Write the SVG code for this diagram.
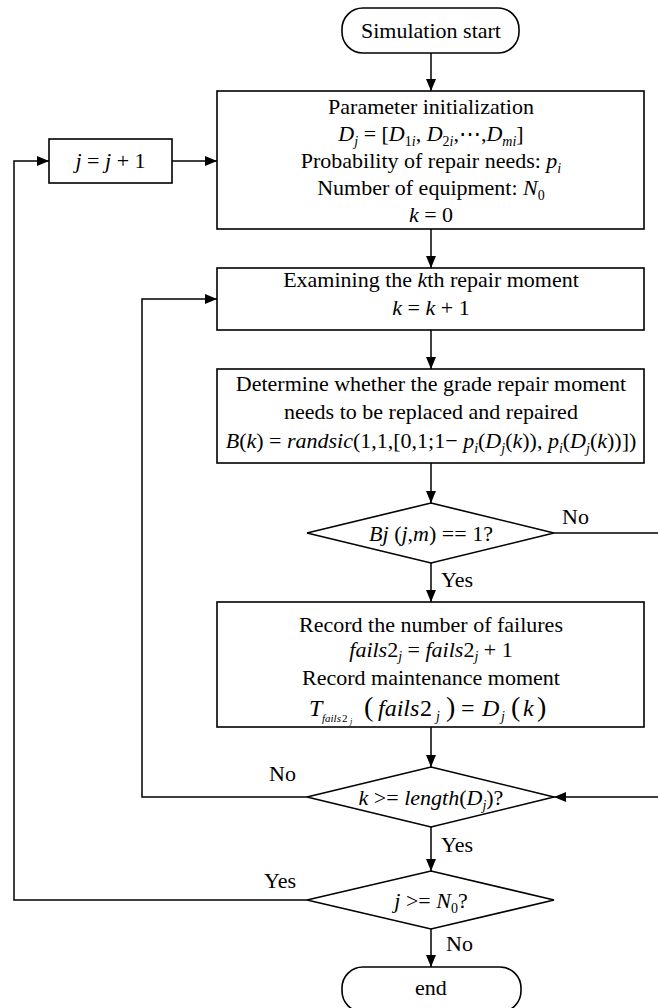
<svg xmlns="http://www.w3.org/2000/svg" width="658" height="1008" viewBox="0 0 658 1008" font-family="'Liberation Serif', 'DejaVu Serif', serif">
  <style>
    .shape { fill: #fff; stroke: #000; stroke-width: 1.6; }
    .wire { fill: none; stroke: #000; stroke-width: 1.5; }
    text { font-family: 'Liberation Serif', 'DejaVu Serif', serif; font-size: 22px; fill: #000; }
    .c { text-anchor: middle; }
    .i { font-style: italic; }
    .s { font-size: 14px; }
    .eq { font-size: 24px; }
    .ss { font-size: 11px; }
    .sss { font-size: 8px; }
    .big { font-size: 28px; font-style: normal; }
  </style>
  <defs>
    <marker id="arrow" markerUnits="userSpaceOnUse" markerWidth="12" markerHeight="10" refX="12" refY="5" orient="auto">
      <path d="M0,0 L12,5 L0,10 z" fill="#000"/>
    </marker>
  </defs>

  <rect width="658" height="1008" fill="#fff"/>

  <!-- connectors -->
  <g id="connectors" class="wire" marker-end="url(#arrow)">
    <path d="M431,53 V91"/>
    <path d="M172,161 H217"/>
    <path d="M431,229 V268"/>
    <path d="M431,330 V369"/>
    <path d="M431,463 V503"/>
    <path d="M431,563 V602"/>
    <path d="M431,727 V767"/>
    <path d="M431,827 V871"/>
    <path d="M431,929 V967"/>
    <!-- no branch of the failure test joins the loop test from the right -->
    <path d="M554,533 H662 V797 H554"/>
    <!-- next repair moment loop -->
    <path d="M307,797 H142 V299 H217"/>
    <!-- next equipment loop -->
    <path d="M307,900 H14 V161 H49"/>
  </g>

  <!-- branch labels -->
  <g id="labels">
    <text x="562" y="524">No</text>
    <text x="441" y="587">Yes</text>
    <text x="296" y="781" text-anchor="end">No</text>
    <text x="441" y="852">Yes</text>
    <text x="296" y="888" text-anchor="end">Yes</text>
    <text x="446" y="951">No</text>
  </g>

  <g id="start">
    <rect class="shape" x="342" y="8" width="177" height="45" rx="21" ry="21"/>
    <text class="c" x="431" y="38">Simulation start</text>
  </g>

  <g id="next-j">
    <rect class="shape" x="49" y="139" width="123" height="44"/>
    <text class="c" x="110.5" y="168"><tspan class="i">j</tspan> = <tspan class="i">j</tspan> + 1</text>
  </g>

  <g id="init">
    <rect class="shape" x="217" y="91" width="427" height="138"/>
    <text class="c" x="431" y="114">Parameter initialization</text>
    <text class="c" x="431" y="141"><tspan class="i">D</tspan><tspan class="s i" dy="5">j</tspan><tspan dy="-5"> = [</tspan><tspan class="i">D</tspan><tspan class="s" dy="5">1</tspan><tspan class="s i">i</tspan><tspan dy="-5">, </tspan><tspan class="i">D</tspan><tspan class="s" dy="5">2</tspan><tspan class="s i">i</tspan><tspan dy="-5">,⋯,</tspan><tspan class="i">D</tspan><tspan class="s i" dy="5">mi</tspan><tspan dy="-5">]</tspan></text>
    <text class="c" x="431" y="168">Probability of repair needs: <tspan class="i">p</tspan><tspan class="s i" dy="5">i</tspan></text>
    <text class="c" x="431" y="195">Number of equipment: <tspan class="i">N</tspan><tspan class="s" dy="5">0</tspan></text>
    <text class="c" x="431" y="222"><tspan class="i">k</tspan> = 0</text>
  </g>

  <g id="examine">
    <rect class="shape" x="217" y="268" width="427" height="62"/>
    <text class="c" x="431" y="287">Examining the <tspan class="i">k</tspan>th repair moment</text>
    <text class="c" x="431" y="315"><tspan class="i">k</tspan> = <tspan class="i">k</tspan> + 1</text>
  </g>

  <g id="determine">
    <rect class="shape" x="217" y="369" width="427" height="94"/>
    <text class="c" x="431" y="391">Determine whether the grade repair moment</text>
    <text class="c" x="431" y="419">needs to be replaced and repaired</text>
    <text class="c" x="431" y="448"><tspan class="i">B</tspan>(<tspan class="i">k</tspan>) = <tspan class="i">randsic</tspan>(1,1,[0,1;1− <tspan class="i">p</tspan><tspan class="s i" dy="5">i</tspan><tspan dy="-5">(</tspan><tspan class="i">D</tspan><tspan class="s i" dy="5">j</tspan><tspan dy="-5">(</tspan><tspan class="i">k</tspan>)), <tspan class="i">p</tspan><tspan class="s i" dy="5">i</tspan><tspan dy="-5">(</tspan><tspan class="i">D</tspan><tspan class="s i" dy="5">j</tspan><tspan dy="-5">(</tspan><tspan class="i">k</tspan>))])</text>
  </g>

  <g id="failure-test">
    <polygon class="shape" points="431,503 554,533 431,563 307,533"/>
    <text class="c" x="431" y="541"><tspan class="i">Bj</tspan> (<tspan class="i">j</tspan>,<tspan class="i">m</tspan>) == 1?</text>
  </g>

  <g id="record">
    <rect class="shape" x="217" y="602" width="427" height="125"/>
    <text class="c" x="431" y="632">Record the number of failures</text>
    <text class="c" x="431" y="657"><tspan class="i">fails</tspan>2<tspan class="s i" dy="4">j</tspan><tspan dy="-4"> = </tspan><tspan class="i">fails</tspan>2<tspan class="s i" dy="4">j</tspan><tspan dy="-4"> + 1</tspan></text>
    <text class="c" x="431" y="685">Record maintenance moment</text>
    <!-- equation set glyph by glyph, equation-editor style -->
    <text class="eq" y="716"><tspan class="i" x="309">T</tspan><tspan class="ss i" x="322" dy="6">fails</tspan><tspan class="ss" x="342">2</tspan><tspan class="sss i" x="350" dy="2">j</tspan><tspan class="big" x="364" dy="-8">(</tspan><tspan class="i" x="378">fails</tspan><tspan x="420">2</tspan><tspan class="s i" x="436" dy="5">j</tspan><tspan class="big" x="446" dy="-5">)</tspan><tspan x="461">=</tspan><tspan class="i" x="482">D</tspan><tspan class="s i" x="501" dy="5">j</tspan><tspan class="big" x="511" dy="-5">(</tspan><tspan class="i" x="523">k</tspan><tspan class="big" x="537">)</tspan></text>
  </g>

  <g id="loop-test">
    <polygon class="shape" points="431,767 554,797 431,827 307,797"/>
    <text class="c" x="431" y="805"><tspan class="i">k</tspan> &gt;= <tspan class="i">length</tspan>(<tspan class="i">D</tspan><tspan class="s i" dy="5">j</tspan><tspan dy="-5">)?</tspan></text>
  </g>

  <g id="equipment-test">
    <polygon class="shape" points="431,871 554,900 431,929 307,900"/>
    <text class="c" x="431" y="908"><tspan class="i">j</tspan> &gt;= <tspan class="i">N</tspan><tspan class="s" dy="5">0</tspan><tspan dy="-5">?</tspan></text>
  </g>

  <g id="end">
    <rect class="shape" x="342" y="967" width="179" height="45" rx="21" ry="21"/>
    <text class="c" x="431" y="995">end</text>
  </g>
</svg>
